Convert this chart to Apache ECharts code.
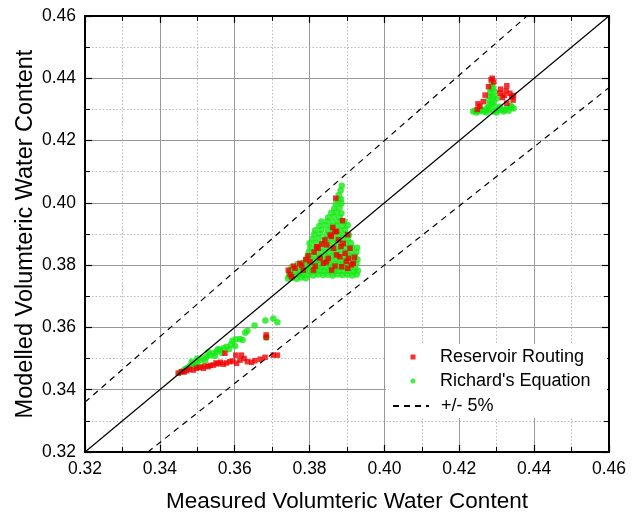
<!DOCTYPE html>
<html><head><meta charset="utf-8">
<script src="https://cdn.jsdelivr.net/npm/echarts@6/dist/echarts.min.js"></script>
<style>html,body{margin:0;padding:0;background:#fff}#c{width:643px;height:519px}</style>
</head><body><div id="c"></div>
<script>
// ---- data ----
const tickValues = [0.32, 0.34, 0.36, 0.38, 0.40, 0.42, 0.44, 0.46];
const xTitle = 'Measured Volumteric Water Content';
const yTitle = 'Modelled Volumteric Water Content';
const seriesNames = ['Reservoir Routing', "Richard's Equation", '+/- 5%'];

const reservoirRouting = [
  // low cluster
  [0.3449,0.3453],[0.3458,0.3458],[0.3465,0.3457],[0.3472,0.3461],[0.3480,0.3466],[0.3489,0.3463],
  [0.3498,0.3469],[0.3505,0.3472],[0.3516,0.3469],[0.3520,0.3476],[0.3529,0.3474],[0.3535,0.3478],
  [0.3543,0.3479],[0.3550,0.3486],[0.3556,0.3483],[0.3562,0.3488],[0.3570,0.3482],[0.3574,0.3517],
  [0.3578,0.3486],[0.3587,0.3490],[0.3595,0.3492],[0.3605,0.3485],[0.3603,0.3511],[0.3618,0.3511],
  [0.3614,0.3495],[0.3625,0.3500],[0.3634,0.3490],[0.3645,0.3488],[0.3654,0.3493],[0.3668,0.3498],
  [0.3681,0.3504],[0.3703,0.3511],[0.3714,0.3511],[0.3684,0.3576],[0.3684,0.3568],
  // middle cluster
  [0.3870,0.4015],[0.3888,0.3943],[0.3868,0.3908],[0.3819,0.3859],[0.3855,0.3897],[0.3877,0.3881],
  [0.3872,0.3833],[0.3881,0.3827],[0.3895,0.3838],[0.3828,0.3822],[0.3837,0.3806],[0.3783,0.3784],
  [0.3761,0.3790],[0.3801,0.3811],[0.3823,0.3854],[0.3846,0.3865],[0.3864,0.3854],[0.3904,0.3822],
  [0.3917,0.3806],[0.3886,0.3795],[0.3859,0.3784],[0.3810,0.3784],[0.3752,0.3763],[0.3908,0.3854],
  [0.3850,0.3822],[0.3774,0.3806],[0.3743,0.3784],[0.3872,0.3908],[0.3841,0.3881],[0.3912,0.3801],
  [0.3748,0.3770],[0.3757,0.3797],[0.3779,0.3800],[0.3790,0.3818],[0.3796,0.3830],[0.3812,0.3842],
  [0.3832,0.3868],[0.3858,0.3892],[0.3884,0.3860],[0.3898,0.3812],[0.3902,0.3790],[0.3920,0.3825],
  [0.3868,0.3797],[0.3845,0.3810],[0.3815,0.3797],[0.3890,0.3870],[0.3862,0.3921],[0.3902,0.3898],
  // upper cluster
  [0.4288,0.4400],[0.4278,0.4373],[0.4327,0.4376],[0.4309,0.4352],[0.4335,0.4352],
  [0.4320,0.4345],[0.4269,0.4346],[0.4264,0.4325],[0.4327,0.4320],[0.4344,0.4330],
  [0.4255,0.4310],[0.4248,0.4300],[0.4315,0.4338],[0.4340,0.4340],
  [0.4292,0.4388],[0.4250,0.4318],[0.4310,0.4365],[0.4285,0.4395],
  [0.4345,0.4345],[0.4325,0.4360]
];

const richardsEquation = [
  // low cluster
  [0.3454,0.3455],[0.3462,0.3460],[0.3472,0.3469],[0.3480,0.3475],[0.3485,0.3490],[0.3489,0.3483],
  [0.3498,0.3488],[0.3500,0.3500],[0.3507,0.3495],[0.3507,0.3474],[0.3516,0.3500],[0.3525,0.3506],
  [0.3530,0.3520],[0.3534,0.3511],[0.3543,0.3517],[0.3552,0.3522],[0.3555,0.3530],[0.3561,0.3528],
  [0.3570,0.3533],[0.3578,0.3538],[0.3601,0.3540],[0.3594,0.3557],[0.3603,0.3562],[0.3614,0.3563],
  [0.3621,0.3560],[0.3628,0.3583],[0.3634,0.3589],[0.3653,0.3606],[0.3682,0.3622],[0.3703,0.3629],
  [0.3714,0.3617],[0.3685,0.3568],[0.3467,0.3466],[0.3494,0.3478],[0.3521,0.3494],[0.3547,0.3508],
  [0.3566,0.3518],[0.3585,0.3530],[0.3590,0.3545],
  // middle cluster: bottom band
  [0.3742,0.3757],[0.3753,0.3759],[0.3766,0.3756],[0.3778,0.3760],[0.3790,0.3758],
  [0.3745,0.3769],[0.3757,0.3767],[0.3771,0.3770],[0.3783,0.3768],[0.3797,0.3769],[0.3810,0.3767],
  [0.3823,0.3770],[0.3836,0.3768],[0.3849,0.3769],[0.3862,0.3767],[0.3875,0.3770],[0.3888,0.3768],
  [0.3901,0.3769],[0.3914,0.3767],[0.3926,0.3770],
  [0.3748,0.3781],[0.3761,0.3779],[0.3774,0.3782],[0.3787,0.3780],[0.3800,0.3781],[0.3813,0.3779],
  [0.3826,0.3782],[0.3839,0.3780],[0.3852,0.3781],[0.3865,0.3779],[0.3878,0.3782],[0.3891,0.3780],
  [0.3904,0.3781],[0.3917,0.3779],[0.3929,0.3782],
  [0.3752,0.3793],[0.3766,0.3791],[0.3779,0.3794],[0.3792,0.3792],[0.3805,0.3793],[0.3818,0.3791],
  [0.3831,0.3794],[0.3844,0.3792],[0.3857,0.3793],[0.3870,0.3791],[0.3883,0.3794],[0.3896,0.3792],
  [0.3909,0.3793],[0.3922,0.3791],
  [0.3768,0.3804],[0.3781,0.3806],[0.3797,0.3803],[0.3812,0.3805],[0.3826,0.3804],[0.3840,0.3806],
  [0.3854,0.3803],[0.3868,0.3805],[0.3882,0.3804],[0.3897,0.3806],[0.3912,0.3803],[0.3925,0.3805],
  // middle cluster: body
  [0.3790,0.3816],[0.3806,0.3818],[0.3821,0.3815],[0.3838,0.3817],[0.3853,0.3816],[0.3869,0.3818],
  [0.3884,0.3815],[0.3900,0.3817],[0.3916,0.3816],[0.3928,0.3818],
  [0.3795,0.3829],[0.3811,0.3831],[0.3826,0.3828],[0.3843,0.3830],[0.3859,0.3829],[0.3874,0.3831],
  [0.3890,0.3828],[0.3906,0.3830],[0.3921,0.3829],
  [0.3798,0.3842],[0.3815,0.3844],[0.3831,0.3841],[0.3847,0.3843],[0.3862,0.3842],[0.3878,0.3844],
  [0.3894,0.3841],[0.3910,0.3843],[0.3925,0.3842],
  [0.3802,0.3856],[0.3818,0.3858],[0.3834,0.3855],[0.3851,0.3857],[0.3867,0.3856],[0.3883,0.3858],
  [0.3898,0.3855],[0.3913,0.3857],[0.3927,0.3856],
  [0.3800,0.3870],[0.3816,0.3872],[0.3833,0.3869],[0.3849,0.3871],[0.3865,0.3870],[0.3881,0.3872],
  [0.3897,0.3869],[0.3910,0.3871],
  [0.3808,0.3884],[0.3824,0.3886],[0.3840,0.3883],[0.3856,0.3885],[0.3872,0.3884],[0.3888,0.3886],
  [0.3902,0.3883],
  [0.3812,0.3898],[0.3828,0.3900],[0.3845,0.3897],[0.3861,0.3899],[0.3877,0.3898],[0.3892,0.3900],
  [0.3905,0.3897],
  [0.3815,0.3912],[0.3832,0.3914],[0.3849,0.3911],[0.3864,0.3913],[0.3880,0.3912],[0.3895,0.3914],
  [0.3826,0.3926],[0.3842,0.3928],[0.3857,0.3925],[0.3873,0.3927],[0.3889,0.3926],[0.3902,0.3928],
  [0.3832,0.3940],[0.3848,0.3942],[0.3863,0.3939],[0.3878,0.3941],[0.3893,0.3940],
  [0.3850,0.3954],[0.3865,0.3956],[0.3880,0.3953],
  [0.3858,0.3968],[0.3872,0.3970],[0.3885,0.3967],
  [0.3866,0.3982],[0.3880,0.3984],
  [0.3870,0.3996],[0.3885,0.3998],
  [0.3876,0.4010],[0.3884,0.4012],
  [0.3878,0.4025],[0.3883,0.4040],[0.3886,0.4055],
  // upper cluster
  [0.4287,0.4379],[0.4282,0.4352],[0.4291,0.4341],[0.4278,0.4330],[0.4287,0.4320],[0.4295,0.4309],
  [0.4309,0.4309],[0.4327,0.4304],[0.4340,0.4309],[0.4255,0.4298],[0.4237,0.4293],[0.4246,0.4290],
  [0.4273,0.4290],[0.4318,0.4293],[0.4264,0.4293],[0.4291,0.4293],[0.4304,0.4298],[0.4284,0.4365],
  [0.4242,0.4296],[0.4252,0.4294],[0.4260,0.4300],[0.4270,0.4297],[0.4280,0.4300],[0.4300,0.4290],
  [0.4312,0.4300],[0.4322,0.4298],[0.4332,0.4296],[0.4345,0.4303],[0.4336,0.4312],[0.4280,0.4315],
  [0.4292,0.4325],[0.4283,0.4342],[0.4295,0.4356],[0.4290,0.4370],[0.4300,0.4335],[0.4275,0.4305]
];

const oneToOne = [[0.32,0.32],[0.46,0.46]];
const upperBand = [[0.32,0.336],[0.4381,0.46]];
const lowerBand = [[0.3368,0.32],[0.46,0.437]];

// ---- chart ----
const FONT = '"Liberation Sans", Arial, Helvetica, sans-serif';
const chart = echarts.init(document.getElementById('c'), null, {renderer:'canvas'});
const fmt = v => v.toFixed(2);
function axisBase(pos, show) {
  return {
    type:'value', position:pos,
    min: tickValues[0], max: tickValues[tickValues.length-1],
    interval: tickValues[1]-tickValues[0],
    axisLine:{show:true, onZero:false, lineStyle:{color:'#000', width:2}},
    axisTick:{show:true, inside:true, length:7, lineStyle:{color:'#000', width:1.2}},
    minorTick:{show:true, splitNumber:2, length:5, lineStyle:{color:'#000', width:1}},
    axisLabel:{show:show, formatter:fmt, color:'#000', fontSize:17.5, fontFamily:FONT},
    splitLine:{show:show, lineStyle:{color:'#999', width:1}},
    minorSplitLine:{show:show, lineStyle:{color:'#bbb', width:1, type:[1.5,2]}},
    z: 1
  };
}
const xB = axisBase('bottom', true);
xB.axisLabel.margin = 8;
xB.name = xTitle; xB.nameLocation='middle'; xB.nameGap=38;
xB.nameTextStyle = {color:'#000', fontSize:22.5, fontFamily:FONT};
const xT = axisBase('top', false);
const yL = axisBase('left', true);
yL.axisLabel.margin = 9;
yL.name = yTitle; yL.nameLocation='middle'; yL.nameGap=47; yL.nameRotate=90;
yL.nameMoveOverlap = false;
yL.nameTextStyle = {color:'#000', fontSize:23.5, fontFamily:FONT};
const yR = axisBase('right', false);

const legendText = {color:'#000', fontSize:18, fontFamily:FONT};
chart.setOption({
  animation:false,
  backgroundColor:'#fff',
  grid:{left:85, top:16, right:34, bottom:67},
  xAxis:[xB, xT],
  yAxis:[yL, yR],
  graphic:[{type:'rect', shape:{x:386, y:344, width:221, height:74}, style:{fill:'#fff'}, z:3}],
  legend:[
    {data:[{name:seriesNames[0], icon:'rect'}], left:410.5, top:348, padding:0, itemWidth:5, itemHeight:5,
     textStyle:Object.assign({padding:[0,0,0,19.5]}, legendText), z:10, selectedMode:false},
    {data:[{name:seriesNames[1], icon:'circle'}], left:410.5, top:372, padding:0, itemWidth:5, itemHeight:5,
     textStyle:Object.assign({padding:[0,0,0,19.5]}, legendText), z:10, selectedMode:false},
    {data:[{name:seriesNames[2]}], left:392, top:397, padding:0, itemWidth:36, itemHeight:10,
     itemStyle:{opacity:0},
     textStyle:Object.assign({padding:[0,0,0,7]}, legendText), z:10, selectedMode:false}
  ],
  series:[
    {name:seriesNames[1], type:'scatter', data:richardsEquation, symbol:'circle', symbolSize:6.5,
     itemStyle:{color:'#14ea14'}, xAxisIndex:0, yAxisIndex:0, z:2},
    {name:seriesNames[0], type:'scatter', data:reservoirRouting, symbol:'rect', symbolSize:5.5,
     itemStyle:{color:'#f00000'}, xAxisIndex:0, yAxisIndex:0, z:2.2},
    {name:'1:1', type:'line', data:oneToOne, symbol:'none', lineStyle:{color:'#000', width:1.2}, z:2.5},
    {name:seriesNames[2], type:'line', data:upperBand, symbol:'none', lineStyle:{color:'#000', width:1.2, type:[6,5]}, z:2.5},
    {name:seriesNames[2], type:'line', data:lowerBand, symbol:'none', lineStyle:{color:'#000', width:1.2, type:[6,5]}, z:2.5}
  ]
});
</script></body></html>
